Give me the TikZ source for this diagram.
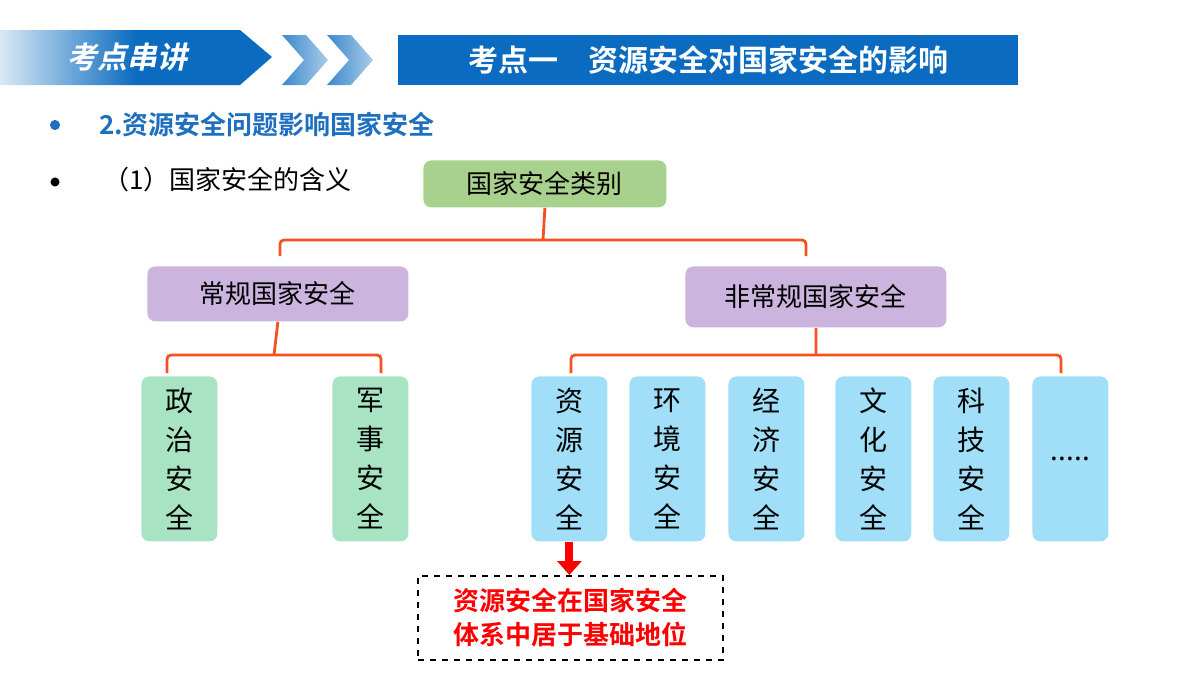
\documentclass[tikz,border=0pt]{standalone}
\usepackage{fontspec}
\setmainfont{Noto Sans CJK SC}[BoldFont={Noto Sans CJK SC Bold}]
\newfontfamily\slantfont{Noto Sans CJK SC Bold}[FakeSlant=0.2]
\usetikzlibrary{positioning,arrows.meta}
\definecolor{hdrblue}{HTML}{0A6BC0}
\definecolor{bulblue}{HTML}{1F6FC0}
\definecolor{brk}{HTML}{F4511E}
\definecolor{topgreen}{HTML}{A9D18E}
\definecolor{midpurple}{HTML}{CBB5DE}
\definecolor{leafgreen}{HTML}{A8E4C4}
\definecolor{leafblue}{HTML}{A0DFF7}
\begin{document}
\begin{tikzpicture}[
  x=0.5pt, y=-0.5pt,
  > = latex,
  box/.style = {rounded corners=4pt, inner sep=0pt, anchor=north west},
  leaf/.style = {box, minimum width=38pt, minimum height=82.5pt, align=center,
    font=\fontsize{14}{19.5}\selectfont},
  bracket/.style = {draw=brk, line width=1.4pt, rounded corners=2pt}
  ]
	\useasboundingbox (0,0) rectangle (1200,675);

	% header
	\shade[left color=hdrblue!15, right color=hdrblue, middle color=hdrblue]
	  (0,30) -- (240,30) -- (272,57) -- (240,85) -- (0,85) -- cycle;
	\node[text=white, font=\slantfont\fontsize{15}{15}\selectfont] (hdr) at (128,57) {考点串讲};
	\foreach \xo in {0,45} {
	  \shade[left color=hdrblue!80, right color=hdrblue!35]
	    (282+\xo,35) -- (306+\xo,35) -- (328+\xo,60) -- (306+\xo,85) -- (282+\xo,85) -- (304+\xo,60) -- cycle;
	}
	\fill[hdrblue] (398,35) rectangle (1018,85);
	\node[text=white, font=\bfseries\fontsize{15}{15}\selectfont] (title) at (708,60) {考点一\quad 资源安全对国家安全的影响};

	% bullets
	\node[circle, fill=bulblue, inner sep=1.8pt] (b1) at (55,125) {};
	\node[anchor=west, text=bulblue, font=\bfseries\fontsize{13}{13}\selectfont] (t1) at (92,125) {2.资源安全问题影响国家安全};
	\node[circle, fill=black, inner sep=1.6pt] (b2) at (55,182) {};
	\node[anchor=west, font=\fontsize{13}{13}\selectfont] (t2) at (96,180) {（1）国家安全的含义};

	% boxes
	\node[box, fill=topgreen, minimum width=121.5pt, minimum height=23.5pt, font=\fontsize{13}{13}\selectfont] (top) at (423,160) {国家安全类别};
	\node[box, fill=midpurple, minimum width=130.5pt, minimum height=27.5pt, font=\fontsize{13}{13}\selectfont] (conv) at (147,266) {常规国家安全};
	\node[box, fill=midpurple, minimum width=130.5pt, minimum height=30.5pt, font=\fontsize{13}{13}\selectfont] (nonconv) at (685,266) {非常规国家安全};

	\node[leaf, fill=leafgreen] (pol) at (141,376) {政\\治\\安\\全};
	\node[leaf, fill=leafgreen] (mil) at (332,376) {军\\事\\安\\全};
	\node[leaf, fill=leafblue] (res) at (531,376) {资\\源\\安\\全};
	\node[leaf, fill=leafblue] (env) at (629,376) {环\\境\\安\\全};
	\node[leaf, fill=leafblue] (eco) at (728,376) {经\\济\\安\\全};
	\node[leaf, fill=leafblue] (cul) at (835,376) {文\\化\\安\\全};
	\node[leaf, fill=leafblue] (tec) at (933,376) {科\\技\\安\\全};
	\node[leaf, fill=leafblue] (etc) at (1032,376) {.....};

	% brackets
	\draw[bracket] (280,256) -- (280,240) -- (806,240) -- (806,256);
	\draw[bracket] (top.south) -- (543,240);
	\draw[bracket] (167,373) -- (167,355) -- (381,355) -- (381,373);
	\draw[bracket] (conv.south) -- (274,355);
	\draw[bracket] (571,373) -- (571,355) -- (1061,355) -- (1061,373);
	\draw[bracket] (nonconv.south) -- (816,355);

	% note
	\node[draw, dashed, thick, minimum width=152.5pt, minimum height=42pt, align=center,
	  text=red, font=\bfseries\fontsize{13}{17}\selectfont, anchor=north west] (note) at (417,575)
	  {资源安全在国家安全\\体系中居于基础地位};
	\draw[red, line width=4pt, -{Triangle[length=7pt,width=12pt]}] (res.south) -- (note.north -| res.south);
\end{tikzpicture}
\end{document}
